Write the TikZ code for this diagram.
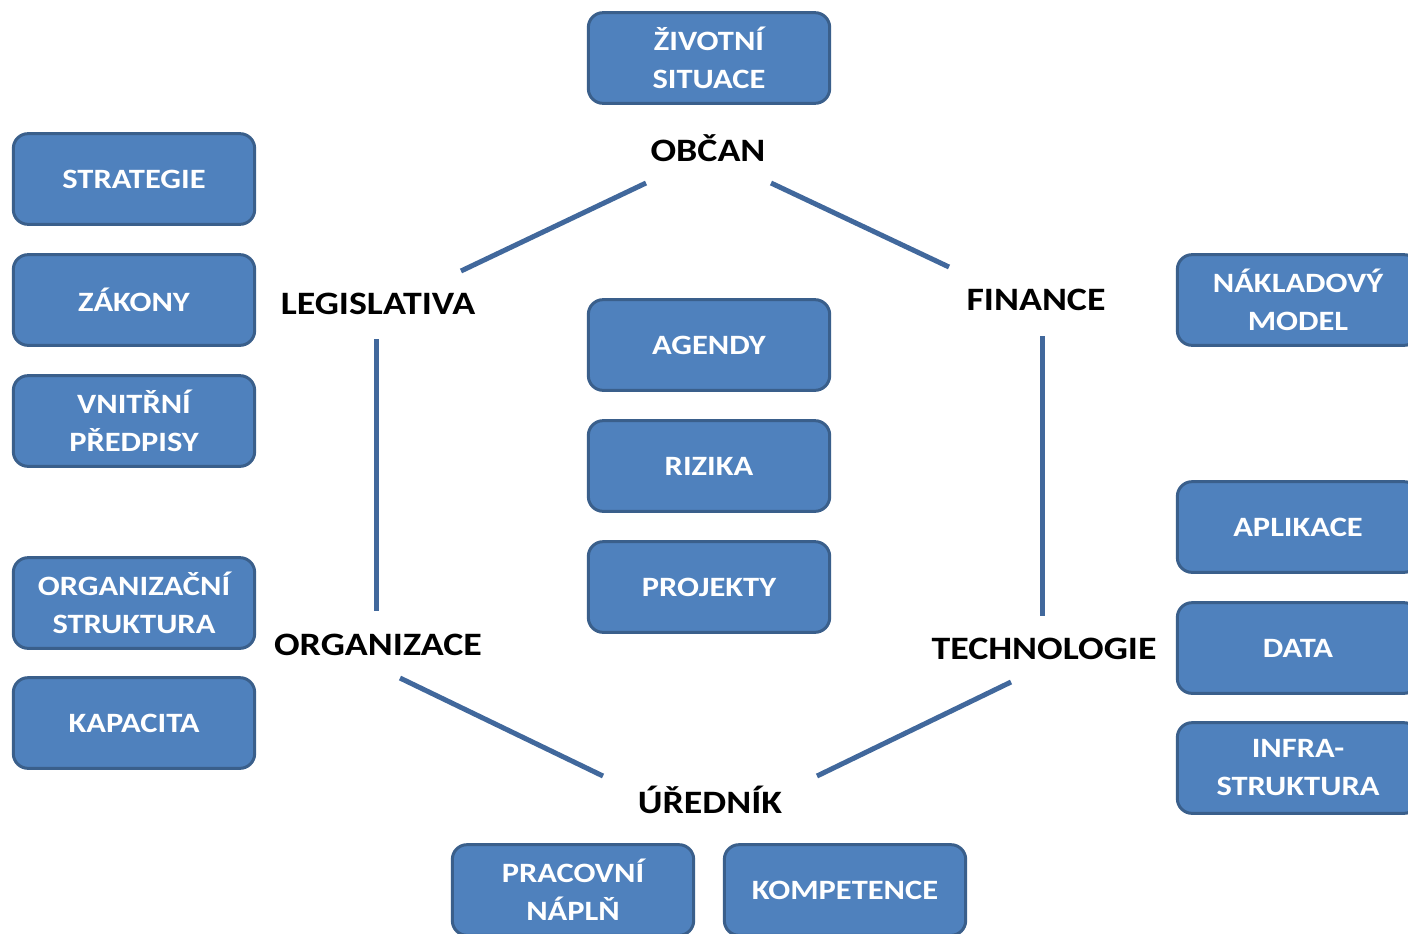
\documentclass[tikz,border=0pt]{standalone}
\usepackage{fontspec}
\setmainfont{Carlito}[FakeStretch=1.16]
\usetikzlibrary{calc}
\definecolor{boxfill}{HTML}{4F81BD}
\definecolor{boxline}{HTML}{3A5F8B}
\definecolor{conncol}{HTML}{41689C}
\tikzset{
  box/.style={draw=boxline, line width=2.25pt, fill=boxfill, rounded corners=11pt,
    minimum width=181pt, minimum height=68pt, inner sep=0pt, align=center,
    text=white, font=\fontsize{21}{28.5}\selectfont\bfseries},
  lbl/.style={inner sep=0pt, text=black, font=\fontsize{24.5}{28}\selectfont\bfseries},
  conn/.style={draw=conncol, line width=3.75pt}
}
\begin{document}
\begin{tikzpicture}[x=0.75pt,y=-0.75pt]
\useasboundingbox (0,0) rectangle (1408,933);
\begin{scope}
\clip (0,0) rectangle (1408,933);
% boxes
\node[box] (zivotni) at (709,58) {ŽIVOTNÍ\\SITUACE};
\node[box] (strategie) at (134,179) {STRATEGIE};
\node[box] (zakony) at (134,300) {ZÁKONY};
\node[box] (vnitrni) at (134,421) {VNITŘNÍ\\PŘEDPISY};
\node[box] (orgstr) at (134,603) {ORGANIZAČNÍ\\STRUKTURA};
\node[box] (kapacita) at (134,723) {KAPACITA};
\node[box] (agendy) at (709,345) {AGENDY};
\node[box] (rizika) at (709,466) {RIZIKA};
\node[box] (projekty) at (709,587) {PROJEKTY};
\node[box] (naklad) at (1298,300) {NÁKLADOVÝ\\MODEL};
\node[box] (aplikace) at (1298,527) {APLIKACE};
\node[box] (data) at (1298,648) {DATA};
\node[box] (infra) at (1298,768) {INFRA-\\STRUKTURA};
\node[box] (naplne) at (573,890) {PRACOVNÍ\\NÁPLŇ};
\node[box] (kompetence) at (845,890) {KOMPETENCE};
% labels
\node[lbl] (obcan) at (708,148) {OBČAN};
\node[lbl] (legis) at (378,304) {LEGISLATIVA};
\node[lbl] (finance) at (1036,300) {FINANCE};
\node[lbl] (organizace) at (378,645) {ORGANIZACE};
\node[lbl] (technologie) at (1044,649) {TECHNOLOGIE};
\node[lbl] (urednik) at (710,800) {ÚŘEDNÍK};
% connectors
\draw[conn] ($(obcan)+(-62,35)$) -- ($(legis)+(83,-33)$);
\draw[conn] ($(obcan)+(63,35)$) -- ($(finance)+(-87,-33)$);
\draw[conn] ($(legis)+(-2,35)$) -- ($(organizace)+(-2,-34)$);
\draw[conn] ($(finance)+(6,36)$) -- ($(technologie)+(-2,-33)$);
\draw[conn] ($(organizace)+(22,33)$) -- ($(urednik)+(-107,-24)$);
\draw[conn] ($(technologie)+(-33,33)$) -- ($(urednik)+(107,-24)$);
\end{scope}
\end{tikzpicture}
\end{document}
